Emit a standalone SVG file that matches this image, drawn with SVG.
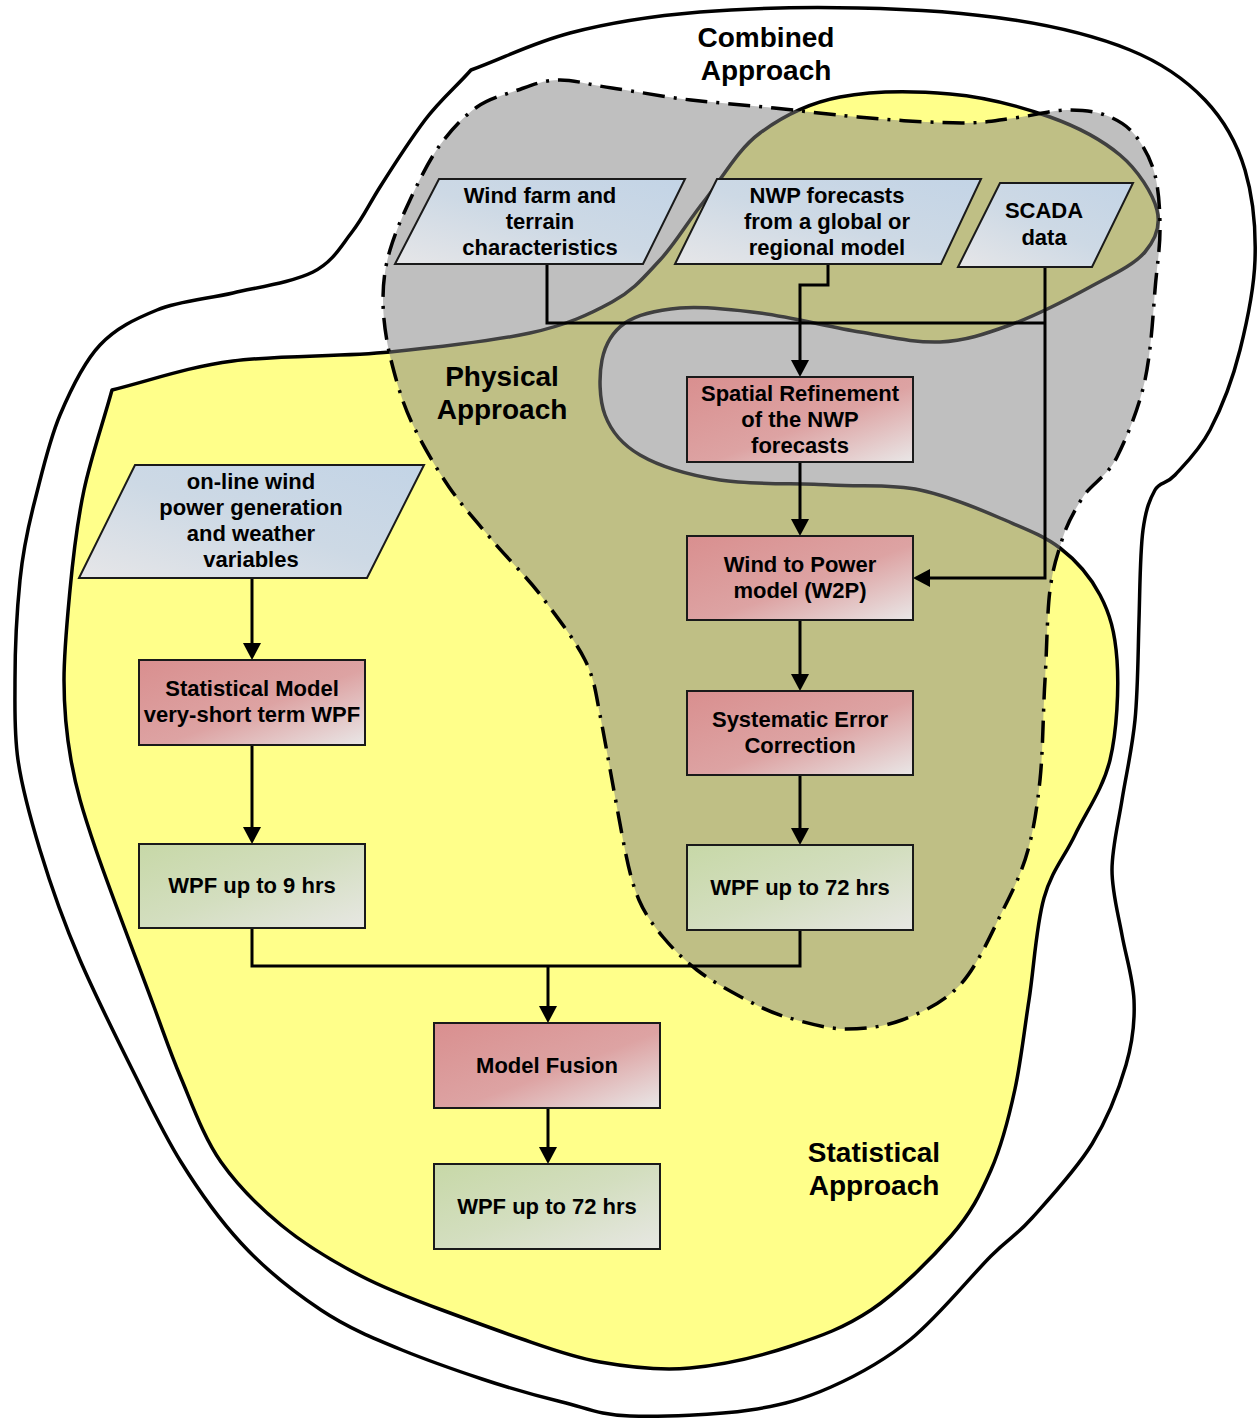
<svg xmlns="http://www.w3.org/2000/svg" width="1259" height="1426" viewBox="0 0 1259 1426">
<defs>
<style>
.blob{stroke:#000;stroke-width:3.5;stroke-linejoin:round}
.outer{fill:#fff}
.stat{fill:#ffff8a}
.phys{fill:#808080;fill-opacity:0.5;stroke-dasharray:22 9 3 9}
.box{stroke:#1a1a1a;stroke-width:2}
.in{fill:url(#gBlue)}
.proc{fill:url(#gRed)}
.out{fill:url(#gGreen)}
text{font-family:"Liberation Sans",Arial,sans-serif;font-weight:bold;fill:#000;text-anchor:middle}
.t{font-size:22px}
.lbl{font-size:28px}
.conn{fill:none;stroke:#000;stroke-width:3}
.arr{marker-end:url(#ah)}
</style>
<linearGradient id="gRed" x1="0" y1="0" x2="1" y2="1">
<stop offset="0" stop-color="#d98f8f"/>
<stop offset="0.55" stop-color="#dda3a3"/>
<stop offset="1" stop-color="#e9e7e7"/>
</linearGradient>
<linearGradient id="gGreen" x1="0" y1="0" x2="1" y2="1">
<stop offset="0" stop-color="#c7d8a7"/>
<stop offset="0.5" stop-color="#d3debf"/>
<stop offset="1" stop-color="#e7e7e3"/>
</linearGradient>
<linearGradient id="gBlue" x1="1" y1="0" x2="0" y2="1">
<stop offset="0" stop-color="#c3d4e6"/>
<stop offset="0.5" stop-color="#cdd9e5"/>
<stop offset="1" stop-color="#e6e6e8"/>
</linearGradient>
<marker id="ah" viewBox="0 0 17 18" markerWidth="17" markerHeight="18" refX="0" refY="9" orient="auto" markerUnits="userSpaceOnUse">
<path d="M0,0 L17,9 L0,18 z" fill="#000"/>
</marker>
</defs>
<rect width="1259" height="1426" fill="#fff"/>

<g id="regions">
<path id="combined" class="blob outer" d="M471,70 C504,58 532,43 570,33 S652,16 700,12 S806,7 858,8 S969,13 1014,20 S1098,37 1130,50 S1186,80 1205,100 S1237,143 1245,170 S1256,230 1255,260 S1247,322 1240,350 S1221,409 1210,430 S1184,465 1175,475 S1160,481 1155,490 S1146,508 1143,530 S1140,588 1139,620 S1138,690 1135,720 S1126,775 1122,800 S1112,848 1112,870 S1118,913 1122,935 S1133,978 1134,1000 S1133,1041 1126,1065 S1108,1118 1092,1144 S1049,1199 1032,1218 S1011,1236 991,1256 S938,1317 911,1339 S858,1375 831,1387 S783,1405 750,1410 S661,1417 630,1416 S587,1408 562,1402 S509,1388 482,1379 S429,1361 402,1350 S348,1328 321,1310 S264,1268 241,1243 S199,1191 181,1162 S150,1105 133,1071 S96,997 80,960 S50,883 40,850 S22,788 18,760 S15,710 15,680 S17,610 20,580 S28,527 35,500 S49,441 60,415 S84,362 100,345 S135,319 157,310 S207,299 233,293 S293,282 313,272 S341,246 352,232 S368,206 380,187 S410,140 425,120 S456,87 471,70 Z"/>
<path id="statistical" class="blob stat" d="M112,390 C152,380 187,367 233,361 S340,357 390,352 S493,341 530,333 S590,314 612,302 S644,277 660,260 S688,221 705,200 S737,150 760,133 S808,103 840,97 S915,91 950,94 S1022,107 1050,117 S1102,140 1120,155 S1153,194 1157,210 S1156,239 1145,252 S1112,275 1090,287 S1035,316 1010,325 S965,341 940,342 S890,337 860,332 S790,317 760,313 S702,306 680,308 S638,314 625,323 S605,345 602,360 S599,399 605,415 S621,444 640,455 S688,475 720,480 S797,483 830,485 S892,484 920,490 S977,508 1000,518 S1043,535 1060,548 S1090,576 1100,595 S1115,632 1117,660 S1117,731 1110,760 S1086,812 1075,835 S1052,870 1044,898 S1034,968 1029,1000 S1021,1061 1015,1089 S1002,1145 991,1170 S971,1213 951,1236 S898,1292 871,1310 S821,1336 791,1346 S722,1365 690,1368 S628,1367 600,1362 S548,1348 522,1339 S469,1320 442,1310 S388,1290 361,1276 S304,1244 281,1225 S238,1186 221,1162 S192,1104 181,1078 S167,1042 153,1004 S110,891 96,850 S76,788 71,760 S64,708 64,680 S67,622 70,590 S77,523 84,490 S103,423 112,390 Z"/>
<path id="physical" class="blob phys" d="M477,107 C490,98 504,95 518,90 S544,80 560,80 S590,85 612,88 S664,97 691,100 S746,105 774,108 S827,114 858,117 S936,123 962,123 S996,120 1014,118 S1052,110 1067,110 S1094,111 1105,115 S1127,125 1135,135 S1151,159 1155,175 S1160,211 1160,230 S1157,265 1155,290 S1151,352 1145,380 S1127,437 1117,457 S1092,483 1083,497 S1067,524 1062,540 S1053,567 1050,590 S1047,648 1045,680 S1043,752 1040,780 S1034,828 1028,850 S1014,888 1003,910 S977,967 960,985 S921,1013 902,1020 S865,1029 846,1029 S803,1022 786,1017 S756,1005 741,997 S710,980 697,970 S673,949 663,937 S645,914 639,900 S629,870 625,850 S616,802 612,780 S604,735 600,715 S595,680 585,660 S557,617 542,597 S507,558 492,540 S462,506 449,487 S422,444 412,423 S396,380 391,360 S383,318 383,300 S385,267 390,250 S402,217 410,200 S429,160 440,145 S464,116 477,107 Z"/>
</g>

<g id="region-labels">
<text class="lbl" x="766" y="47">Combined</text>
<text class="lbl" x="766" y="80">Approach</text>
<text class="lbl" x="502" y="386">Physical</text>
<text class="lbl" x="502" y="419">Approach</text>
<text class="lbl" x="874" y="1162">Statistical</text>
<text class="lbl" x="874" y="1195">Approach</text>
</g>

<g id="connectors">
<path class="conn" d="M547,264 V323 H1045"/>
<path class="conn arr" d="M1045,267 V578 H930"/>
<path class="conn arr" d="M828,264 V285 H800 V360"/>
<path class="conn arr" d="M800,462 V519"/>
<path class="conn arr" d="M800,620 V674"/>
<path class="conn arr" d="M800,775 V828"/>
<path class="conn" d="M252,928 V966 H800 V930"/>
<path class="conn arr" d="M548,966 V1006"/>
<path class="conn arr" d="M548,1108 V1147"/>
<path class="conn arr" d="M252,578 V643"/>
<path class="conn arr" d="M252,745 V827"/>
</g>

<g id="n-windfarm">
<polygon class="box in" points="439,179 685,179 643,264 395,264"/>
<text class="t" x="540" y="203">Wind farm and</text>
<text class="t" x="540" y="229">terrain</text>
<text class="t" x="540" y="255">characteristics</text>
</g>
<g id="n-nwp">
<polygon class="box in" points="717,179 981,179 941,264 675,264"/>
<text class="t" x="827" y="203">NWP forecasts</text>
<text class="t" x="827" y="229">from a global or</text>
<text class="t" x="827" y="255">regional model</text>
</g>
<g id="n-scada">
<polygon class="box in" points="1000,183 1133,183 1092,267 958,267"/>
<text class="t" x="1044" y="218">SCADA</text>
<text class="t" x="1044" y="245">data</text>
</g>
<g id="n-online">
<polygon class="box in" points="135,465 424,465 367,578 79,578"/>
<text class="t" x="251" y="489">on-line wind</text>
<text class="t" x="251" y="515">power generation</text>
<text class="t" x="251" y="541">and weather</text>
<text class="t" x="251" y="567">variables</text>
</g>
<g id="n-spatial">
<rect class="box proc" x="687" y="377" width="226" height="85"/>
<text class="t" x="800" y="401">Spatial Refinement</text>
<text class="t" x="800" y="427">of the NWP</text>
<text class="t" x="800" y="453">forecasts</text>
</g>
<g id="n-w2p">
<rect class="box proc" x="687" y="536" width="226" height="84"/>
<text class="t" x="800" y="572">Wind to Power</text>
<text class="t" x="800" y="598">model (W2P)</text>
</g>
<g id="n-sec">
<rect class="box proc" x="687" y="691" width="226" height="84"/>
<text class="t" x="800" y="727">Systematic Error</text>
<text class="t" x="800" y="753">Correction</text>
</g>
<g id="n-wpf72a">
<rect class="box out" x="687" y="845" width="226" height="85"/>
<text class="t" x="800" y="895">WPF up to 72 hrs</text>
</g>
<g id="n-statmodel">
<rect class="box proc" x="139" y="660" width="226" height="85"/>
<text class="t" x="252" y="696">Statistical Model</text>
<text class="t" x="252" y="722">very-short term WPF</text>
</g>
<g id="n-wpf9">
<rect class="box out" x="139" y="844" width="226" height="84"/>
<text class="t" x="252" y="893">WPF up to 9 hrs</text>
</g>
<g id="n-fusion">
<rect class="box proc" x="434" y="1023" width="226" height="85"/>
<text class="t" x="547" y="1073">Model Fusion</text>
</g>
<g id="n-wpf72b">
<rect class="box out" x="434" y="1164" width="226" height="85"/>
<text class="t" x="547" y="1214">WPF up to 72 hrs</text>
</g>
</svg>
